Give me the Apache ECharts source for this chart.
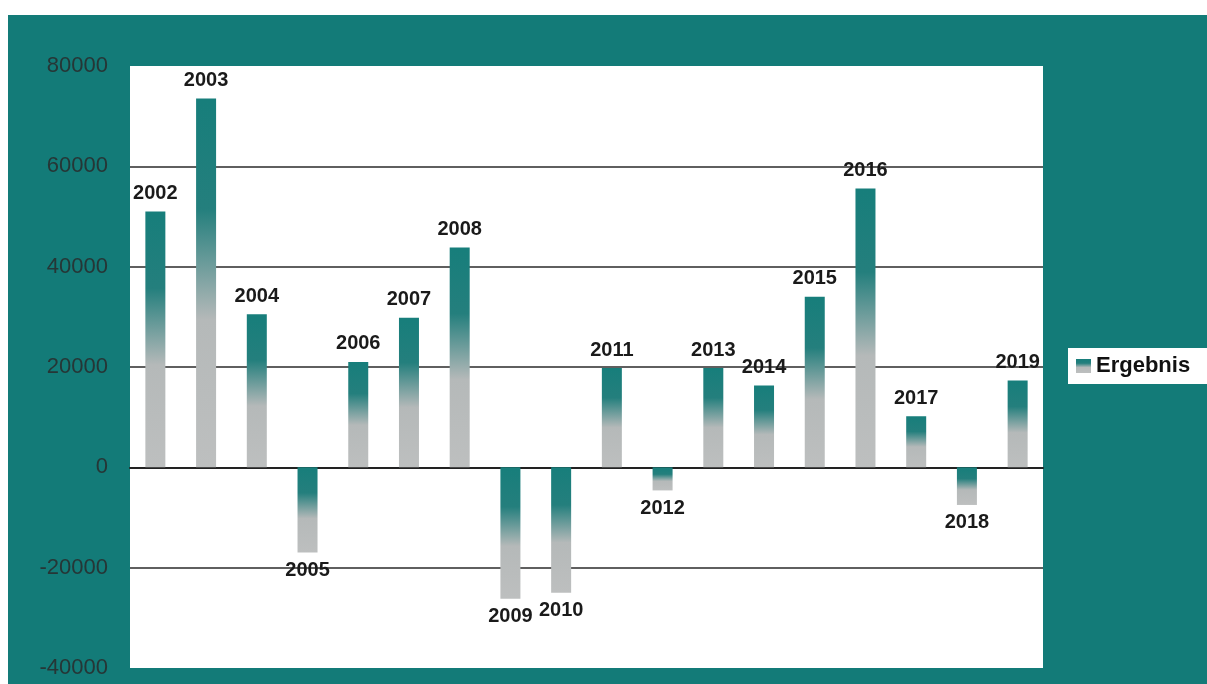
<!DOCTYPE html>
<html>
<head>
<meta charset="utf-8">
<script src="https://cdn.jsdelivr.net/npm/echarts@6/dist/echarts.min.js"></script>
<style>
  html, body { margin: 0; padding: 0; background: #ffffff; overflow: hidden; }
  #chart { position: absolute; left: 8px; top: 15px; width: 1199px; height: 669px; background: #137b78; }
</style>
</head>
<body>
<div id="chart"></div>
<script>
const years = ['2002', '2003', '2004', '2005', '2006', '2007', '2008', '2009', '2010',
    '2011', '2012', '2013', '2014', '2015', '2016', '2017', '2018', '2019'];
const ergebnis = [51000, 73500, 30500, -17000, 21000, 29800, 43800, -26200, -25000,
    19800, -4600, 19800, 16300, 34000, 55600, 10200, -7500, 17300];
const yTicks = [-40000, -20000, 0, 20000, 40000, 60000, 80000];

const chart = echarts.init(document.getElementById('chart'));

const barColor = new echarts.graphic.LinearGradient(0, 0, 0, 1, [
    { offset: 0, color: '#177e7b' },
    { offset: 0.3, color: '#247f7d' },
    { offset: 0.6, color: '#b5b9b9' },
    { offset: 1, color: '#bdbfbf' }
]);

// negative bars carry their year label underneath
const barData = ergebnis.map((v) => ({
    value: v,
    label: { position: v < 0 ? 'bottom' : 'top' }
}));

chart.setOption({
    animation: false,
    textStyle: { fontFamily: 'Liberation Sans, Arial, sans-serif' },
    grid: {
        left: 122,
        top: 51,
        width: 913,
        height: 602,
        show: true,
        backgroundColor: '#ffffff',
        borderWidth: 0
    },
    legend: {
        left: 1060,
        top: 333,
        backgroundColor: '#ffffff',
        padding: [7, 20, 7, 8],
        itemWidth: 15,
        itemHeight: 14,
        itemGap: 4,
        icon: 'rect',
        textStyle: { fontSize: 22, fontWeight: 'bold', color: '#111' },
        data: ['Ergebnis']
    },
    xAxis: {
        type: 'category',
        data: years,
        axisLine: { onZero: true, lineStyle: { color: '#222', width: 2 } },
        axisTick: { show: false },
        axisLabel: { show: false },
        splitLine: { show: false }
    },
    yAxis: {
        type: 'value',
        min: yTicks[0],
        max: yTicks[yTicks.length - 1],
        interval: 20000,
        axisLine: { show: false },
        axisTick: { show: false },
        axisLabel: {
            fontSize: 22,
            color: '#263636',
            margin: 22,
            formatter: (v) => String(v)
        },
        splitLine: {
            lineStyle: {
                width: 1.5,
                color: ['transparent', '#2a2a2a', '#2a2a2a', '#2a2a2a', '#2a2a2a', '#2a2a2a', 'transparent']
            }
        }
    },
    series: [{
        name: 'Ergebnis',
        type: 'bar',
        barWidth: 20,
        data: barData,
        itemStyle: { color: barColor },
        label: {
            show: true,
            formatter: (p) => p.name,
            fontSize: 20,
            fontWeight: 'bold',
            color: '#1a1a1a',
            distance: 8
        }
    }]
});
</script>
</body>
</html>
